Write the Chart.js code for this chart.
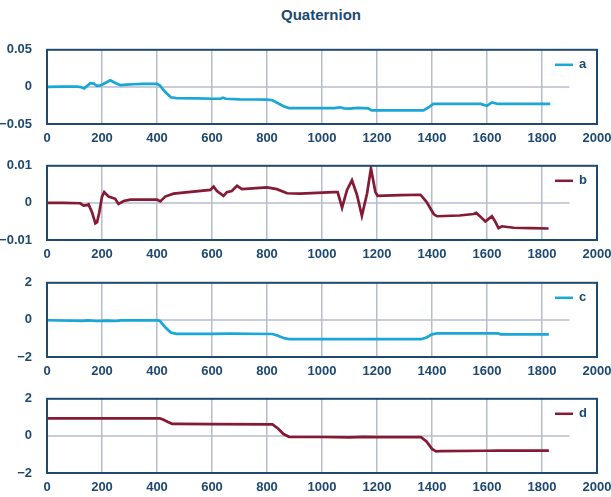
<!DOCTYPE html>
<html lang="en">
<head>
  <meta charset="UTF-8">
  <title>Quaternion</title>
  <script src="https://cdn.jsdelivr.net/npm/chart.js"></script>
  <style>
    body { margin: 0; background: #fff; width: 611px; height: 497px; overflow: hidden; position: relative; }
    .title {
      position: absolute; left: 221px; top: 7px; width: 200px; text-align: center;
      font: bold 15px/15px "Liberation Sans", Arial, sans-serif; color: #1d4872;
    }
    .panel { position: absolute; left: 0; width: 611px; height: 114px; }
  </style>
</head>
<body>
<div class="title">Quaternion</div>
<div class="panel" style="top:35px"><canvas id="chartA" width="611" height="114"></canvas></div>
<div class="panel" style="top:151px"><canvas id="chartB" width="611" height="114"></canvas></div>
<div class="panel" style="top:268px"><canvas id="chartC" width="611" height="114"></canvas></div>
<div class="panel" style="top:384px"><canvas id="chartD" width="611" height="114"></canvas></div>

<script>
  // x axis ticks (sample index)
  const xTicks = [0, 200, 400, 600, 800, 1000, 1200, 1400, 1600, 1800, 2000];
  const zeroLineEnd = 1900;

  // series a
  const aX = [0, 60, 110, 125, 135, 145, 157, 170, 181, 195, 210, 230, 245, 266, 290, 315, 350, 400, 410, 430, 450, 470, 550, 600, 630, 640, 650, 700, 750, 800, 820, 840, 860, 880, 950, 1000, 1045, 1065, 1080, 1100, 1130, 1150, 1168, 1180, 1250, 1300, 1369, 1390, 1405, 1430, 1500, 1576, 1600, 1618, 1640, 1700, 1800, 1830];
  const aVal = [0, 0.0005, 0.0003, -0.0005, -0.002, 0.001, 0.005, 0.0045, 0.0013, 0.002, 0.005, 0.009, 0.006, 0.0023, 0.003, 0.0036, 0.004, 0.004, 0.002, -0.007, -0.014, -0.0152, -0.0155, -0.016, -0.016, -0.0145, -0.016, -0.0168, -0.017, -0.0172, -0.018, -0.022, -0.026, -0.0285, -0.0287, -0.0287, -0.0285, -0.0275, -0.029, -0.0292, -0.0283, -0.0285, -0.029, -0.0316, -0.0316, -0.0316, -0.0316, -0.027, -0.0229, -0.023, -0.023, -0.023, -0.0255, -0.021, -0.023, -0.023, -0.023, -0.023];
  const aTicks = [-0.05, 0, 0.05];

  // series b
  const bX = [0, 60, 121, 133, 145, 151, 164, 176, 182, 190, 200, 208, 224, 248, 260, 279, 303, 376, 400, 412, 430, 460, 594, 606, 618, 642, 654, 672, 691, 709, 800, 836, 873, 921, 1042, 1057, 1073, 1091, 1109, 1127, 1145, 1164, 1178, 1194, 1202, 1285, 1358, 1380, 1406, 1418, 1500, 1551, 1561, 1576, 1594, 1606, 1618, 1628, 1642, 1654, 1697, 1760, 1824];
  const bVal = [0, 0, -0.0001, -0.0007, -0.0006, -0.0004, -0.0026, -0.0055, -0.0052, -0.0026, 0.0017, 0.0029, 0.0017, 0.0011, -0.0003, 0.0005, 0.0009, 0.0009, 0.0009, 0.0004, 0.0017, 0.0025, 0.0035, 0.0044, 0.0032, 0.0019, 0.0029, 0.0032, 0.0046, 0.0037, 0.0042, 0.0037, 0.0026, 0.0025, 0.0029, 0.0029, -0.0013, 0.0035, 0.0061, 0.0022, -0.0035, 0.0026, 0.0093, 0.0030, 0.0019, 0.0021, 0.0022, 0.0003, -0.003, -0.0036, -0.0034, -0.003, -0.0027, -0.0037, -0.005, -0.0043, -0.0036, -0.0048, -0.0068, -0.0063, -0.0067, -0.0068, -0.0069];
  const bTicks = [-0.01, 0, 0.01];

  // series c
  const cX = [0, 130, 150, 180, 220, 250, 270, 400, 410, 430, 450, 470, 600, 660, 820, 840, 860, 880, 1000, 1360, 1380, 1400, 1420, 1640, 1650, 1825];
  const cVal = [-0.02, -0.05, -0.03, -0.06, -0.04, -0.06, -0.03, -0.02, -0.05, -0.4, -0.68, -0.75, -0.75, -0.74, -0.76, -0.85, -0.98, -1.04, -1.04, -1.04, -0.95, -0.78, -0.72, -0.73, -0.78, -0.78];
  const cTicks = [-2, 0, 2];

  // series d
  const dX = [0, 410, 420, 440, 455, 470, 600, 820, 840, 860, 880, 1000, 1100, 1150, 1200, 1360, 1380, 1400, 1415, 1430, 1600, 1640, 1825];
  const dVal = [0.94, 0.94, 0.9, 0.75, 0.65, 0.65, 0.63, 0.62, 0.4, 0.1, -0.05, -0.06, -0.08, -0.05, -0.07, -0.07, -0.3, -0.7, -0.83, -0.82, -0.8, -0.79, -0.79];
  const dTicks = [-2, 0, 2];

  const NAVY = '#1d4872';
  const GRID = '#b7bccd';
  const FONT = '"Liberation Sans", Arial, sans-serif';
  Chart.defaults.font.family = FONT;

  // frame, zero line and in-plot legend
  const panelDecor = {
    id: 'panelDecor',
    beforeDatasetsDraw(chart) {
      const { ctx, scales: { x, y } } = chart;
      const py = y.getPixelForValue(0);
      ctx.save();
      ctx.strokeStyle = GRID;
      ctx.lineWidth = 1.5;
      ctx.beginPath();
      ctx.moveTo(x.getPixelForValue(0), py);
      ctx.lineTo(x.getPixelForValue(zeroLineEnd), py);
      ctx.stroke();
      ctx.restore();
    },
    afterDraw(chart) {
      const { ctx, chartArea: a } = chart;
      const ds = chart.data.datasets[0];
      ctx.save();
      ctx.strokeStyle = '#1f4a6f';
      ctx.lineWidth = 2;
      ctx.strokeRect(a.left, a.top, a.right - a.left, a.bottom - a.top);
      const ly = a.top + 15;
      ctx.strokeStyle = ds.borderColor;
      ctx.lineWidth = 2.5;
      ctx.beginPath();
      ctx.moveTo(a.right - 42, ly);
      ctx.lineTo(a.right - 24, ly);
      ctx.stroke();
      ctx.fillStyle = NAVY;
      ctx.font = 'bold 13px ' + FONT;
      ctx.textBaseline = 'middle';
      ctx.fillText(ds.label, a.right - 18, ly);
      ctx.restore();
    }
  };

  function fmt(v) {
    if (v === 0) return '0';
    return (v < 0 ? '\u2212' : '') + Math.abs(v);
  }

  function makePanel(id, label, xs, vals, color, yTicks) {
    return new Chart(document.getElementById(id), {
      type: 'line',
      data: {
        datasets: [{
          label: label,
          data: xs.map((x, i) => ({ x: x, y: vals[i] })),
          borderColor: color,
          borderWidth: 2.7,
          pointRadius: 0,
          tension: 0,
          fill: false
        }]
      },
      options: {
        responsive: false,
        animation: false,
        layout: { padding: { top: 12, right: 0, left: 0, bottom: 0 } },
        plugins: { legend: { display: false }, tooltip: { enabled: false } },
        scales: {
          x: {
            type: 'linear',
            min: 0,
            max: 2000,
            afterBuildTicks: s => { s.ticks = xTicks.map(v => ({ value: v })); },
            afterFit: s => { s.height = 25; s.paddingRight = 14; },
            border: { display: false },
            grid: {
              drawTicks: false,
              lineWidth: 1.5,
              color: c => (c.tick && c.tick.value > 0 && c.tick.value < 2000) ? GRID : 'rgba(0,0,0,0)'
            },
            ticks: {
              padding: 7,
              maxRotation: 0,
              color: NAVY,
              font: { size: 13, weight: 'bold' },
              callback: v => String(v)
            }
          },
          y: {
            min: yTicks[0],
            max: yTicks[yTicks.length - 1],
            afterBuildTicks: s => { s.ticks = yTicks.map(v => ({ value: v })); },
            afterFit: s => { s.width = 47; },
            border: { display: false },
            grid: { display: false },
            ticks: {
              padding: 7,
              color: NAVY,
              font: { size: 13, weight: 'bold' },
              callback: v => fmt(v)
            }
          }
        }
      },
      plugins: [panelDecor]
    });
  }

  makePanel('chartA', 'a', aX, aVal, '#19a7d8', aTicks);
  makePanel('chartB', 'b', bX, bVal, '#851a34', bTicks);
  makePanel('chartC', 'c', cX, cVal, '#19a7d8', cTicks);
  makePanel('chartD', 'd', dX, dVal, '#851a34', dTicks);
</script>
</body>
</html>
